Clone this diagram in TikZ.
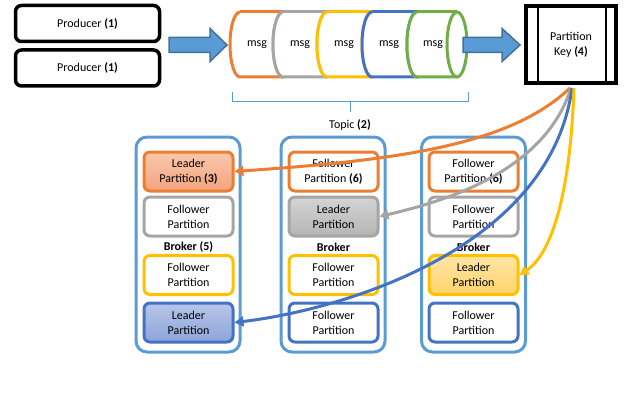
\documentclass[tikz,border=0pt]{standalone}
\usepackage{fontspec}
\setmainfont{Carlito}
\usetikzlibrary{arrows.meta,calc}
\definecolor{cOr}{HTML}{ED7D31}
\definecolor{cGy}{HTML}{A5A5A5}
\definecolor{cYe}{HTML}{FFC000}
\definecolor{cBl}{HTML}{4472C4}
\definecolor{cGr}{HTML}{70AD47}
\definecolor{cLb}{HTML}{5B9BD5}
\definecolor{cLbd}{HTML}{41719C}
\definecolor{fOrT}{HTML}{F9C7AC}
\definecolor{fOrB}{HTML}{F3A47D}
\definecolor{fGyT}{HTML}{D4D4D4}
\definecolor{fGyB}{HTML}{B5B5B5}
\definecolor{fYeT}{HTML}{FFE6A6}
\definecolor{fYeB}{HTML}{FFD36A}
\definecolor{fBlT}{HTML}{B7C5E8}
\definecolor{fBlB}{HTML}{8DA5DA}
\tikzset{
  txt/.style={font=\fontsize{12}{15}\selectfont, align=center},
  producer/.style={draw=black, line width=3.5pt, rounded corners=6pt, minimum width=144pt, minimum height=36pt, fill=white, txt},
  broker/.style={draw=cLb, line width=3pt, rounded corners=11pt, minimum width=104pt, minimum height=215pt},
  part/.style={line width=3pt, rounded corners=6pt, minimum width=89pt, minimum height=39pt, fill=white, txt},
  conn/.style={line width=3pt, -{Triangle[length=9pt,width=10pt]}},
  cyl/.style={line width=3pt},
  blockarrow/.style={fill=cLb, draw=cLbd, line width=1.5pt, line join=miter},
}
\newcommand{\cylinder}[3]{% left center x, right center x, color
  \fill[white] (#1,12) arc[start angle=270,end angle=90,x radius=10,y radius=32.5] -- (#2,77) arc[start angle=90,end angle=-90,x radius=10,y radius=32.5] -- cycle;
  \draw[cyl,draw=#3] (#1,12) arc[start angle=270,end angle=90,x radius=10,y radius=32.5] -- (#2,77);
  \draw[cyl,draw=#3] (#1,12) -- (#2,12);
  \draw[cyl,draw=#3] (#2,44.5) ellipse[x radius=10,y radius=32.5];
}
\begin{document}
\begin{tikzpicture}[x=1pt,y=-1pt]
\useasboundingbox (0,0) rectangle (640,404);
% producers
\node[producer] (p1) at (87.5,23.5) {Producer \textbf{(1)}};
\node[producer] (p2) at (87.5,68) {Producer \textbf{(1)}};
% block arrow 1
\draw[blockarrow] (169,37.5) -- (210,37.5) -- (210,28.5) -- (227,45) -- (210,61.5) -- (210,52.5) -- (169,52.5) -- cycle;
% cylinders
\cylinder{240}{283}{cOr}
\cylinder{283}{327}{cGy}
\cylinder{327}{372}{cYe}
\cylinder{372}{417}{cBl}
\cylinder{417}{457}{cGr}
\node[txt] (m1) at (257,45) {msg};
\node[txt] (m2) at (300,45) {msg};
\node[txt] (m3) at (344,45) {msg};
\node[txt] (m4) at (389,45) {msg};
\node[txt] (m5) at (433,45) {msg};
% block arrow 2
\draw[blockarrow] (463,37.5) -- (502,37.5) -- (502,28.5) -- (520,45) -- (502,61.5) -- (502,52.5) -- (463,52.5) -- cycle;
% partition key
\node[draw=black, line width=4pt, minimum width=90pt, minimum height=77pt, txt] (key) at (571,44.5) {Partition\\Key \textbf{(4)}};
\draw[line width=2.5pt] (538,7) -- (538,82);
\draw[line width=2.5pt] (606,7) -- (606,82);
% brace
\draw[cLb, line width=0.9pt] (232,92) -- (232,101) -- (468,101) -- (468,92);
\draw[cLb, line width=0.9pt] (350,101) -- (350,112);
\node[txt] (topic) at (350,125) {Topic \textbf{(2)}};
% brokers
\node[broker] (b1) at (188,244.5) {};
\node[broker] (b2) at (333,244.5) {};
\node[broker] (b3) at (473.5,244.5) {};
% broker 1
\node[part, draw=cOr, top color=fOrT, bottom color=fOrB] (a1) at (188.5,171.5) {Leader\\Partition \textbf{(3)}};
\node[part, draw=cGy] (a2) at (188.5,216.5) {Follower\\Partition};
\node[txt, font=\fontsize{12}{15}\selectfont\bfseries] (bl1) at (188.5,247) {Broker (5)};
\node[part, draw=cYe] (a3) at (188.5,275) {Follower\\Partition};
\node[part, draw=cBl, top color=fBlT, bottom color=fBlB] (a4) at (188.5,322.5) {Leader\\Partition};
% broker 2
\node[part, draw=cOr] (c1) at (333.5,171.5) {Follower\\Partition \textbf{(6)}};
\node[part, draw=cGy, top color=fGyT, bottom color=fGyB] (c2) at (333.5,216.5) {Leader\\Partition};
\node[txt, font=\fontsize{12}{15}\selectfont\bfseries] (bl2) at (333.5,247) {Broker};
\node[part, draw=cYe] (c3) at (333.5,275) {Follower\\Partition};
\node[part, draw=cBl] (c4) at (333.5,322.5) {Follower\\Partition};
% broker 3
\node[part, draw=cOr] (d1) at (473.5,171.5) {Follower\\Partition \textbf{(6)}};
\node[part, draw=cGy] (d2) at (473.5,216.5) {Follower\\Partition};
\node[txt, font=\fontsize{12}{15}\selectfont\bfseries] (bl3) at (473.5,247) {Broker};
\node[part, draw=cYe, top color=fYeT, bottom color=fYeB] (d3) at (473.5,275) {Leader\\Partition};
\node[part, draw=cBl] (d4) at (473.5,322.5) {Follower\\Partition};
% connectors
\draw[conn, cOr] ($(key.south)+(-1,3)$) .. controls (510,145) and (400,160) .. (a1.east);
\draw[conn, cGy] ($(key.south)+(0,3)$) .. controls (545,170) and (450,200) .. (c2.east);
\draw[conn, cBl] ($(key.south)+(1,3)$) .. controls (550,250) and (340,310) .. (a4.east);
\draw[conn, cYe] ($(key.south)+(3,3)$) .. controls (570,200) and (550,255) .. (d3.east);
\end{tikzpicture}
\end{document}
